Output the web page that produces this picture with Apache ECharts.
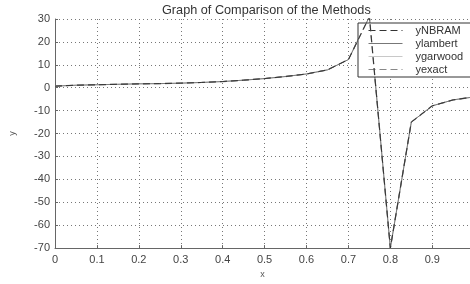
<!DOCTYPE html>
<html>
<head>
<meta charset="utf-8">
<script src="https://cdn.jsdelivr.net/npm/echarts@6/dist/echarts.min.js"></script>
<style>html,body{margin:0;padding:0;background:#fff}#c{width:470px;height:284px}</style>
</head>
<body>
<div id="c"></div>
<script>
const xValues  = [0, 0.05, 0.1, 0.15, 0.2, 0.25, 0.3, 0.35, 0.4, 0.45, 0.5, 0.55, 0.6, 0.65, 0.7, 0.75, 0.8, 0.85, 0.9, 0.95, 1.0];
const yNBRAM   = [0.7, 1.1, 1.3, 1.5, 1.7, 1.8, 2.0, 2.3, 2.7, 3.3, 4.0, 4.9, 6.0, 7.8, 12.3, 31, -70, -15, -7.9, -5.3, -4.0];
const yLambert = [0.7, 1.1, 1.3, 1.5, 1.7, 1.8, 2.0, 2.3, 2.7, 3.3, 4.0, 4.9, 6.0, 7.8, 12.3, 31, -70, -15, -7.9, -5.3, -4.0];
const yGarwood = [0.7, 1.1, 1.3, 1.5, 1.7, 1.8, 2.0, 2.3, 2.7, 3.3, 4.0, 4.9, 6.0, 7.8, 12.3, 31, -70, -15, -7.9, -5.3, -4.0];
const yExact   = [0.7, 1.1, 1.3, 1.5, 1.7, 1.8, 2.0, 2.3, 2.7, 3.3, 4.0, 4.9, 6.0, 7.8, 12.3, 31, -70, -15, -7.9, -5.3, -4.0];
const xTicks = ['0', '0.1', '0.2', '0.3', '0.4', '0.5', '0.6', '0.7', '0.8', '0.9'];

const pair = arr => xValues.map((x, i) => [x, arr[i]]);
const font = 'Liberation Sans, Arial, sans-serif';

const chart = echarts.init(document.getElementById('c'), null, {renderer: 'canvas'});
chart.setOption({
  animation: false,
  backgroundColor: '#fff',
  title: {
    text: 'Graph of Comparison of the Methods',
    left: 157, top: -1,
    textStyle: {fontSize: 12.7, fontWeight: 'normal', color: '#333', fontFamily: font}
  },
  grid: {left: 50, right: 0, top: 19, bottom: 26},
  legend: {
    show: true,
    left: 358, top: 23, right: 'auto', bottom: 'auto',
    orient: 'vertical',
    backgroundColor: '#fff',
    borderColor: '#333', borderWidth: 1, borderRadius: 0,
    padding: [2, 14, 2, 10],
    itemWidth: 34, itemHeight: 11, itemGap: 2,
    itemStyle: {opacity: 0},
    lineStyle: {width: 1},
    textStyle: {fontSize: 11, color: '#333', fontFamily: font, padding: [0, 0, 0, 8]},
    data: ['yNBRAM', 'ylambert', 'ygarwood', 'yexact']
  },
  xAxis: {
    type: 'value', min: 0, max: 0.99, interval: 0.1,
    name: 'x', nameLocation: 'middle', nameGap: 17,
    nameTextStyle: {fontSize: 9, color: '#555', fontFamily: font},
    axisLine: {show: true, onZero: false, lineStyle: {color: '#666', width: 1}},
    axisTick: {show: true, inside: true, length: 3, lineStyle: {color: '#666'}},
    axisLabel: {
      fontSize: 11, color: '#444', fontFamily: font, margin: 6, showMaxLabel: false,
      formatter: v => { const k = Math.round(v * 10); return (Math.abs(v * 10 - k) < 1e-6 && k < xTicks.length) ? xTicks[k] : ''; }
    },
    splitLine: {show: true, lineStyle: {color: '#777', type: [1, 3], width: 1}}
  },
  yAxis: {
    type: 'value', min: -70, max: 30, interval: 10,
    name: 'y', nameLocation: 'middle', nameGap: 38,
    nameTextStyle: {fontSize: 9, color: '#555', fontFamily: font},
    axisLine: {show: true, onZero: false, lineStyle: {color: '#666', width: 1}},
    axisTick: {show: true, inside: true, length: 3, lineStyle: {color: '#666'}},
    axisLabel: {fontSize: 11, color: '#444', fontFamily: font, margin: 5},
    splitLine: {show: true, lineStyle: {color: '#777', type: [1, 3], width: 1}}
  },
  series: [
    {name: 'yNBRAM', type: 'line', data: pair(yNBRAM), symbol: 'none', clip: true, z: 5,
     lineStyle: {color: '#333', width: 1, type: [7, 4]}, itemStyle: {color: '#333'}},
    {name: 'ylambert', type: 'line', data: pair(yLambert), symbol: 'none', clip: true, z: 3,
     lineStyle: {color: '#777', width: 1, type: 'solid'}, itemStyle: {color: '#777'}},
    {name: 'ygarwood', type: 'line', data: pair(yGarwood), symbol: 'none', clip: true, z: 2,
     lineStyle: {color: '#c8c8c8', width: 1, type: 'solid'}, itemStyle: {color: '#c8c8c8'}},
    {name: 'yexact', type: 'line', data: pair(yExact), symbol: 'none', clip: true, z: 4,
     lineStyle: {color: '#888', width: 1.3, type: [7, 4]}, itemStyle: {color: '#888'}}
  ]
});
</script>
</body>
</html>
